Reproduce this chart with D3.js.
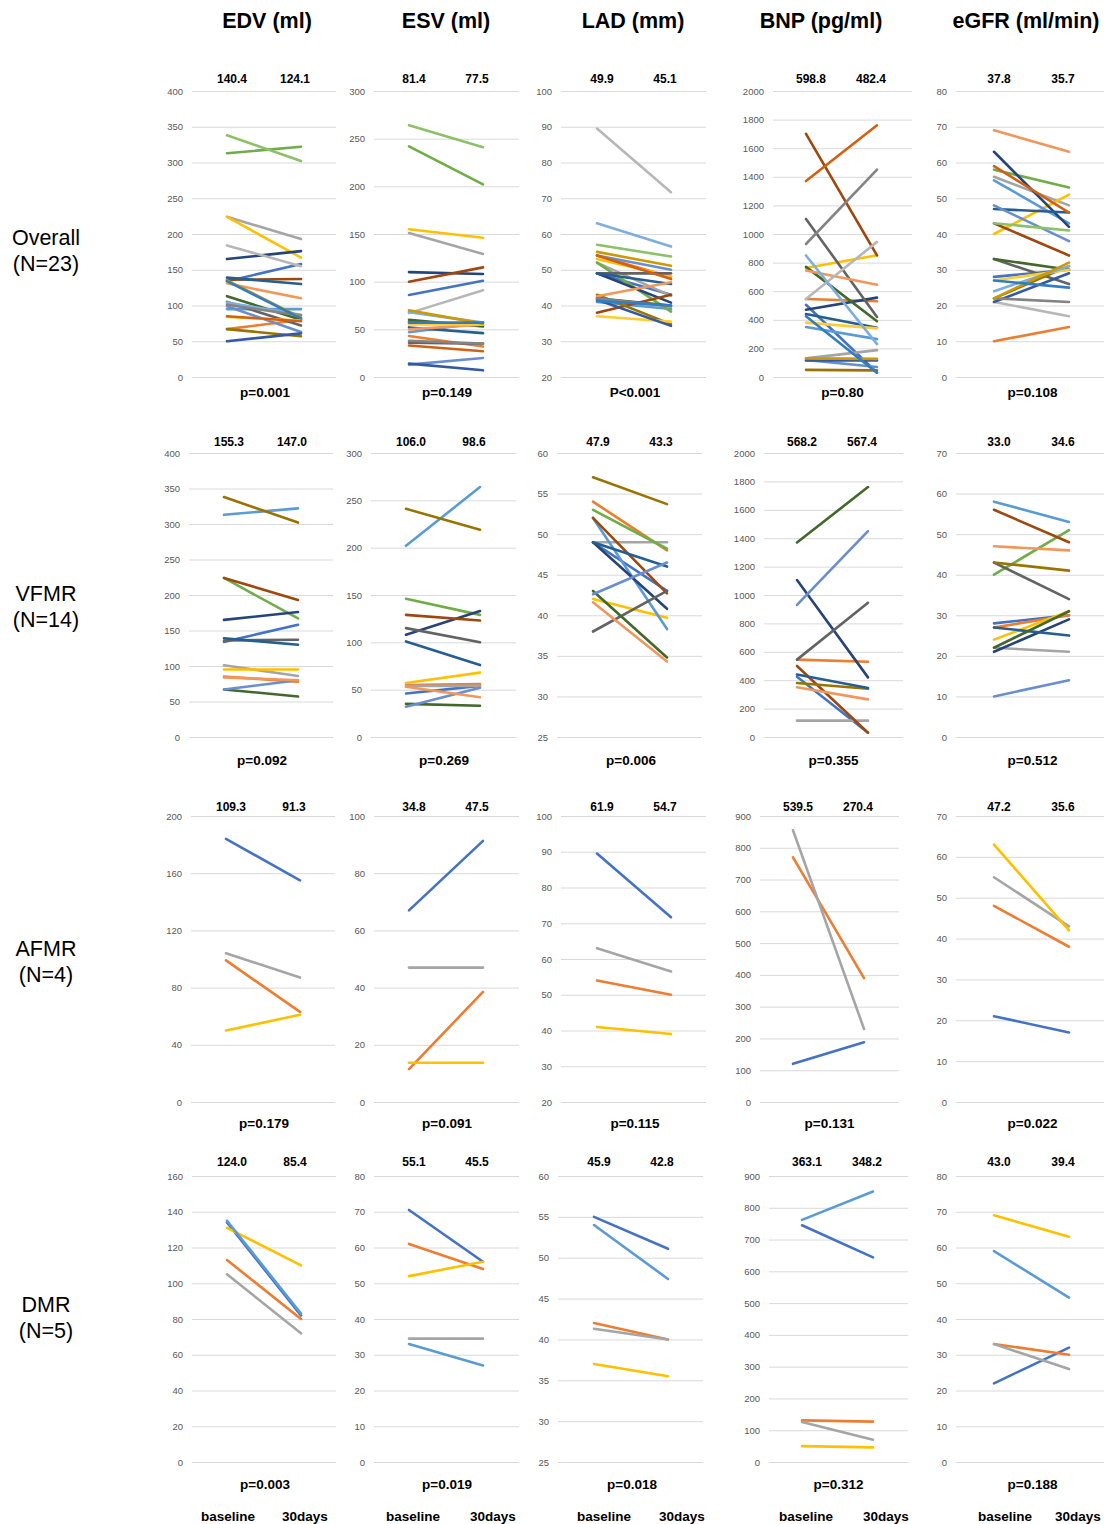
<!DOCTYPE html>
<html>
<head>
<meta charset="utf-8">
<script src="https://cdn.jsdelivr.net/npm/d3@7"></script>
<style>
  body { margin: 0; background: #fff; }
</style>
</head>
<body>
<div id="chart"></div>
<script>
// ---- data ----
const groups = ["Overall", "VFMR", "AFMR", "DMR"];
const groupN = ["(N=23)", "(N=14)", "(N=4)", "(N=5)"];
const measures = ["EDV (ml)", "ESV (ml)", "LAD (mm)", "BNP (pg/ml)", "eGFR (ml/min)"];
const timepoints = ["baseline", "30days"];

// excel series colours, one per patient (series order)
const palette = ["#4472C4", "#ED7D31", "#A5A5A5", "#FFC000", "#5B9BD5", "#70AD47",
  "#264478", "#9E480E", "#636363", "#997300", "#255E91", "#43682B",
  "#698ED0", "#F1975A", "#B7B7B7", "#FFCD33", "#7CAFDD", "#8CC168",
  "#335AA1", "#D26012", "#848484", "#CC9A00", "#327DC2"];

// [baseline, 30days] per patient, in series order
const overallEDV = [[134,158],[67,80],[224,193],[224,167],[95,95],[313,322],[165,176],[136,137],[105,72],[67,57],[139,130],[113,80],[99,63],[131,110],[184,155],[84,79],[104,87],[338,302],[50,61],[85,78],[101,86],[135,83],[134,82]];
const overallESV = [[86,101],[43,32],[151,129],[155,146],[47,57],[242,202],[110,108],[100,115],[36,35],[58,54],[52,46],[60,53],[13,20],[50,55],[67,91],[55,55],[68,57],[264,241],[14,7],[33,27],[38,35],[70,56],[57,57]];
const overallLAD = [[49,43],[54,48],[52,42.7],[53,48.2],[41,39],[52,38.3],[49,40.8],[38,43],[49,49],[43,34.8],[49,46],[42,40],[54,50],[42.6,46.5],[89.5,71.7],[37,35.5],[63,56.5],[57,53.7],[41.6,34.3],[54,47.4],[42,39.7],[55,51.1],[41.3,40]];
const overallBNP = [[505,30],[545,530],[130,188],[762,851],[350,265],null,[470,555],[1700,850],[1105,420],[50,46],[440,345],[770,390],[120,70],[745,645],[545,945],[380,340],[850,230],null,[115,115],[1370,1760],[930,1450],[130,127],[425,30]];
const overallEGFR = [[28,30],[10,14],[56,48],[40,51],[55,43],[58,53],[63,42],[43,34],[33,26],[22,31],[47,46],[33,30],[48,38],[69,63],[21,17],[27,30],[24,31],[43,41],[21,29],[59,46],[22,21],[22,32],[27,25]];

const vfmrEDV = [[134,158],[85,78],[101,86],[95,95],[313,322],[224,167],[165,176],[224,193],[136,137],[338,302],[139,130],[67,57],[67,80],[84,80]];
const vfmrESV = [[46,54],[55,56],[54,54],[57,68],[202,264],[146,129],[108,133],[129,123],[115,100],[241,219],[101,76],[35,33],[32,52],[53,42]];
const vfmrLAD = [[49,43],[54,48],[49,49],[42,39.7],[52,38.3],[53,48.2],[49,40.8],[52,42.7],[38,43],[57,53.7],[49,46],[43,34.8],[42.6,46.5],[41.6,34.3]];
const vfmrBNP = [[425,30],[545,530],[115,115],null,null,null,[1105,420],[500,30],[545,945],[380,340],[440,345],[1370,1760],[930,1450],[350,265]];
const vfmrEGFR = [[28,30],[27,30],[22,21],[24,31],[58,53],[40,51],[21,29],[56,48],[43,34],[43,41],[27,25],[22,31],[10,14],[47,46]];

const afmrEDV = [[184,155],[99,63],[104,87],[50,61]];
const afmrESV = [[67,91.3],[11.5,38.5],[47,47],[13.7,13.7]];
const afmrLAD = [[89.5,71.7],[54,50],[63,56.5],[41,39]];
const afmrBNP = [[120,188],[770,390],[855,230],null];
const afmrEGFR = [[21,17],[48,38],[55,43],[63,42]];

const dmrEDV = [[134,82],[113,80],[105,72],[131,110],[135,83]];
const dmrESV = [[70.5,56],[61,54],[34.5,34.5],[52,56],[33,27]];
const dmrLAD = [[55,51.1],[42,40],[41.3,40],[37,35.5],[54,47.4]];
const dmrBNP = [[745,644],[131,127],[126,70],[50,46],[762,851]];
const dmrEGFR = [[22,32],[33,30],[33,26],[69,63],[59,46]];

// y axis [min, max, step] per panel
const overallAxes = [[0,400,50],[0,300,50],[20,100,10],[0,2000,200],[0,80,10]];
const vfmrAxes = [[0,400,50],[0,300,50],[25,60,5],[0,2000,200],[0,70,10]];
const afmrAxes = [[0,200,40],[0,100,20],[20,100,10],[0,900,100],[0,70,10]];
const dmrAxes = [[0,160,20],[0,80,10],[25,60,5],[0,900,100],[0,80,10]];

// mean values printed above each panel
const overallMeans = [["140.4","124.1"],["81.4","77.5"],["49.9","45.1"],["598.8","482.4"],["37.8","35.7"]];
const vfmrMeans = [["155.3","147.0"],["106.0","98.6"],["47.9","43.3"],["568.2","567.4"],["33.0","34.6"]];
const afmrMeans = [["109.3","91.3"],["34.8","47.5"],["61.9","54.7"],["539.5","270.4"],["47.2","35.6"]];
const dmrMeans = [["124.0","85.4"],["55.1","45.5"],["45.9","42.8"],["363.1","348.2"],["43.0","39.4"]];

const overallP = ["p=0.001", "p=0.149", "P<0.001", "p=0.80", "p=0.108"];
const vfmrP = ["p=0.092", "p=0.269", "p=0.006", "p=0.355", "p=0.512"];
const afmrP = ["p=0.179", "p=0.091", "p=0.115", "p=0.131", "p=0.022"];
const dmrP = ["p=0.003", "p=0.019", "p=0.018", "p=0.312", "p=0.188"];

const rows = [
  { data: [overallEDV, overallESV, overallLAD, overallBNP, overallEGFR], axes: overallAxes, means: overallMeans, p: overallP },
  { data: [vfmrEDV, vfmrESV, vfmrLAD, vfmrBNP, vfmrEGFR], axes: vfmrAxes, means: vfmrMeans, p: vfmrP },
  { data: [afmrEDV, afmrESV, afmrLAD, afmrBNP, afmrEGFR], axes: afmrAxes, means: afmrMeans, p: afmrP },
  { data: [dmrEDV, dmrESV, dmrLAD, dmrBNP, dmrEGFR], axes: dmrAxes, means: dmrMeans, p: dmrP }
];

// ---- layout ----
const W = 1104, H = 1524;
const titleX = [267, 446, 633, 821, 1026];
const rowLabelY = [250, 606, 961, 1317];
const timeLabelX = [[228, 305], [413, 493], [604, 682], [806, 886], [1005, 1078]];
// grid left/right and the two x positions of the lines
const cols = [
  { gl: 192, gr: 336, x0: 227, x1: 301 },
  { gl: 374, gr: 519, x0: 409, x1: 483 },
  { gl: 561, gr: 706, x0: 597, x1: 671 },
  { gl: 773, gr: 912, x0: 806, x1: 877 },
  { gl: 956, gr: 1104, x0: 994, x1: 1069 }
];
const colShift = [[0,0,0,0,0],[-3,-3,-4,-9,0],[-1,0,0,-13,0],[0,0,-3,-4,0]];
const rowY = [
  { mean: 79, top: 91, bot: 377, p: 392 },
  { mean: 442, top: 453, bot: 737, p: 760 },
  { mean: 807, top: 816, bot: 1102, p: 1123 },
  { mean: 1162, top: 1176, bot: 1462, p: 1484 }
];

const svg = d3.select("#chart").append("svg")
  .attr("width", W)
  .attr("height", H)
  .style("font-family", "'Liberation Sans', Arial, sans-serif");

svg.append("rect").attr("width", W).attr("height", H).attr("fill", "#fff");

// column titles
svg.selectAll(".title")
  .data(measures)
  .enter().append("text")
  .attr("x", (d, i) => titleX[i])
  .attr("y", 20)
  .attr("dy", "0.35em")
  .attr("text-anchor", "middle")
  .style("font-size", "21.5px")
  .style("font-weight", "bold")
  .text(d => d);

// row labels
groups.forEach(function (g, r) {
  var cy = rowLabelY[r];
  svg.append("text").attr("x", 46).attr("y", cy - 13).attr("dy", "0.35em")
    .attr("text-anchor", "middle").style("font-size", "21.5px").text(g);
  svg.append("text").attr("x", 46).attr("y", cy + 13).attr("dy", "0.35em")
    .attr("text-anchor", "middle").style("font-size", "21.5px").text(groupN[r]);
});

rows.forEach(function (row, r) {
  var ry = rowY[r];

  row.data.forEach(function (patients, c) {
    var dx = colShift[r][c];
    var col = cols[c];
    var gl = col.gl + dx, gr = col.gr + dx, x0 = col.x0 + dx, x1 = col.x1 + dx;
    var ax = row.axes[c];

    var y = d3.scaleLinear().domain([ax[0], ax[1]]).range([ry.bot, ry.top]);
    var x = d3.scalePoint().domain(timepoints).range([x0, x1]);

    var g = svg.append("g");

    // axis with gridlines
    var yAxis = d3.axisLeft(y)
      .tickValues(d3.range(ax[0], ax[1] + ax[2] / 2, ax[2]))
      .tickSize(-(gr - gl))
      .tickPadding(9)
      .tickFormat(d3.format("d"));

    var axisG = g.append("g").attr("transform", `translate(${gl},0)`).call(yAxis);
    axisG.select(".domain").remove();
    axisG.selectAll(".tick line").attr("stroke", "#D9D9D9").attr("stroke-width", 1);
    axisG.selectAll(".tick text")
      .attr("fill", "#595959")
      .style("font-size", "9.5px")
      .style("font-family", "'Liberation Sans', Arial, sans-serif");

    // patient lines
    var line = d3.line().x((d, i) => x(timepoints[i])).y(d => y(d));
    g.selectAll(".pt")
      .data(patients.map((p, i) => ({ v: p, i: i })).filter(d => d.v != null))
      .enter().append("path")
      .attr("d", d => line(d.v))
      .attr("fill", "none")
      .attr("stroke", d => palette[d.i])
      .attr("stroke-width", 2.6)
      .attr("stroke-linecap", "round");

    // means above
    g.append("text").attr("x", x0 + 5).attr("y", ry.mean).attr("dy", "0.35em")
      .attr("text-anchor", "middle").style("font-size", "12px").style("font-weight", "bold")
      .text(row.means[c][0]);
    g.append("text").attr("x", x1 - 6).attr("y", ry.mean).attr("dy", "0.35em")
      .attr("text-anchor", "middle").style("font-size", "12px").style("font-weight", "bold")
      .text(row.means[c][1]);

    // p value
    g.append("text").attr("x", (x0 + x1) / 2 + 1).attr("y", ry.p).attr("dy", "0.35em")
      .attr("text-anchor", "middle").style("font-size", "13.5px").style("font-weight", "bold")
      .text(row.p[c]);

    // time labels under the last row
    if (r == rows.length - 1) {
      timepoints.forEach(function (t, k) {
        g.append("text").attr("x", timeLabelX[c][k]).attr("y", 1516).attr("dy", "0.35em")
          .attr("text-anchor", "middle").style("font-size", "13.5px").style("font-weight", "bold")
          .text(t);
      });
    }
  });
});
</script>
</body>
</html>
